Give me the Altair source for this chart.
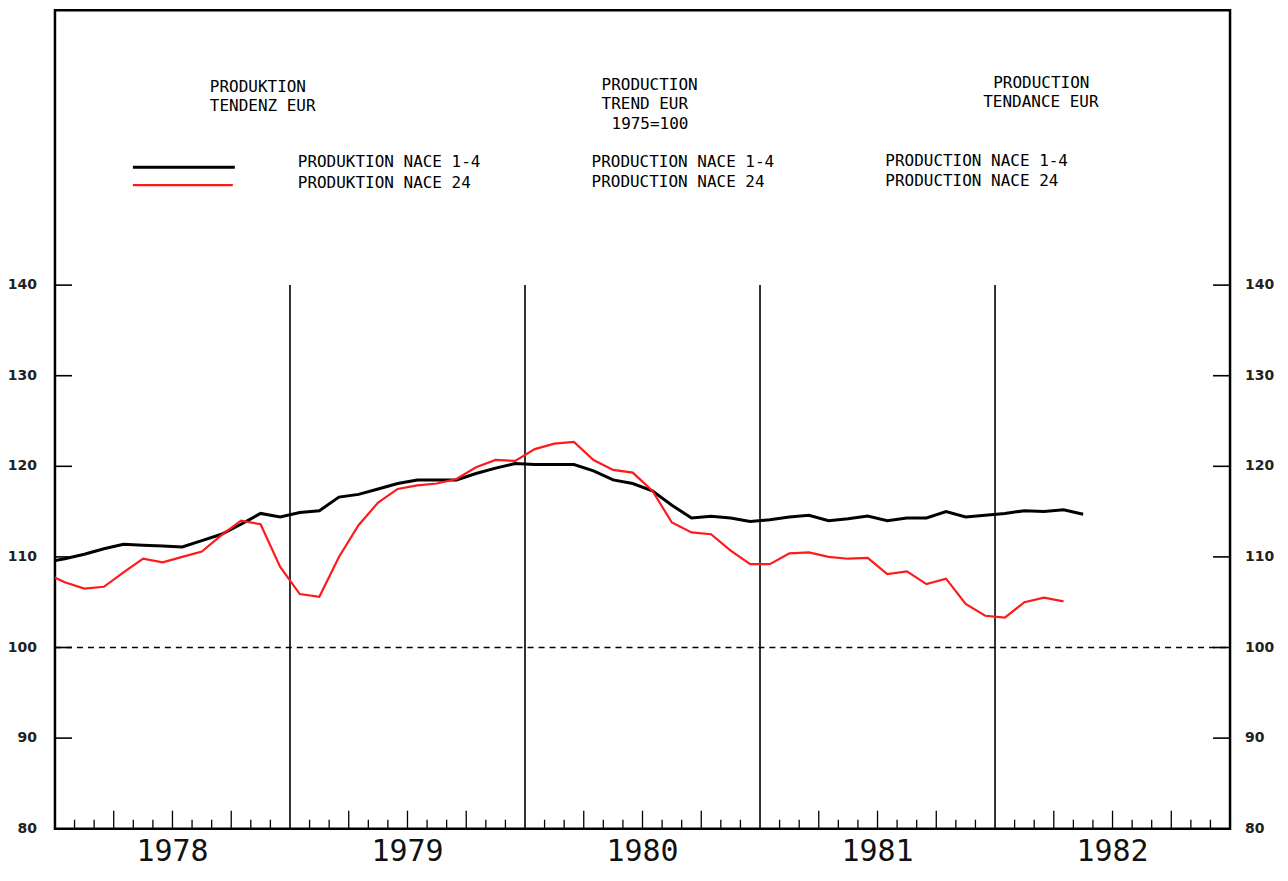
import altair as alt
import pandas as pd

# ---------------- data ----------------
# month index: 0 = January 1978; points plotted at the middle of each month
month_idx = list(range(-1, 53))

nace_1_4 = [109.4,
            109.8, 110.3, 110.9, 111.4, 111.3, 111.2, 111.1, 111.8, 112.5, 113.6, 114.8, 114.4,
            114.9, 115.1, 116.6, 116.9, 117.5, 118.1, 118.5, 118.5, 118.5, 119.2, 119.8, 120.3,
            120.2, 120.2, 120.2, 119.5, 118.5, 118.1, 117.3, 115.7, 114.3, 114.5, 114.3, 113.9,
            114.1, 114.4, 114.6, 114.0, 114.2, 114.5, 114.0, 114.3, 114.3, 115.0, 114.4, 114.6,
            114.8, 115.1, 115.0, 115.2, 114.7]

nace_24 = [108.2,
           107.2, 106.5, 106.7, 108.3, 109.8, 109.4, 110.0, 110.6, 112.4, 114.0, 113.6, 108.9,
           105.9, 105.6, 110.0, 113.5, 116.0, 117.5, 117.9, 118.1, 118.6, 119.9, 120.7, 120.6,
           121.9, 122.5, 122.7, 120.7, 119.6, 119.3, 117.3, 113.8, 112.7, 112.5, 110.7, 109.2,
           109.2, 110.4, 110.5, 110.0, 109.8, 109.9, 108.1, 108.4, 107.0, 107.6, 104.8, 103.5,
           103.3, 105.0, 105.5, 105.1]

years = ["1978", "1979", "1980", "1981", "1982"]
y_ticks = [90, 100, 110, 120, 130, 140]
y_labels = [80, 90, 100, 110, 120, 130, 140]

title_de = ["PRODUKTION", "TENDENZ EUR"]
title_en = ["PRODUCTION", "TREND EUR", "1975=100"]
title_fr = ["PRODUCTION", "TENDANCE EUR"]
legend_de = ["PRODUKTION NACE 1-4", "PRODUKTION NACE 24"]
legend_en = ["PRODUCTION NACE 1-4", "PRODUCTION NACE 24"]
legend_fr = ["PRODUCTION NACE 1-4", "PRODUCTION NACE 24"]

# ---------------- layout ----------------
W, H = 1176, 819
FONT = "DejaVu Sans Mono"

black_df = pd.DataFrame({"m": [m + 0.5 for m in month_idx[:len(nace_1_4)]], "v": nace_1_4})
red_df = pd.DataFrame({"m": [m + 0.5 for m in month_idx[:len(nace_24)]], "v": nace_24})

xs = alt.Scale(domain=[0, 60], nice=False, zero=False)
ys = alt.Scale(domain=[80, 170.33], nice=False, zero=False)

black_line = alt.Chart(black_df).mark_line(color="black", strokeWidth=3, clip=True).encode(
    x=alt.X("m:Q", scale=xs, axis=None), y=alt.Y("v:Q", scale=ys, axis=None))
red_line = alt.Chart(red_df).mark_line(color="#ff1a1a", strokeWidth=2.2, clip=True).encode(
    x=alt.X("m:Q", scale=xs, axis=None), y=alt.Y("v:Q", scale=ys, axis=None))

# year separators (from 80 up to 140)
ysep_df = pd.DataFrame({"m": [12, 24, 36, 48], "lo": [80] * 4, "hi": [140] * 4})
year_lines = alt.Chart(ysep_df).mark_rule(color="black", strokeWidth=1.6).encode(
    x=alt.X("m:Q", scale=xs, axis=None), y=alt.Y("lo:Q", scale=ys, axis=None), y2="hi:Q")

# 100 reference line
ref_df = pd.DataFrame({"v": [100]})
ref_line = alt.Chart(ref_df).mark_rule(color="black", strokeWidth=1.3, strokeDash=[6, 5]).encode(
    y=alt.Y("v:Q", scale=ys, axis=None), x=alt.value(0), x2=alt.value(W))

# month ticks on bottom axis
small_m = [m for m in range(1, 60) if m % 3 != 0]
long_m = [m for m in range(1, 60) if m % 3 == 0 and m % 12 != 0]
small_ticks = alt.Chart(pd.DataFrame({"m": small_m})).mark_rule(color="black", strokeWidth=1.3).encode(
    x=alt.X("m:Q", scale=xs, axis=None), y=alt.value(H), y2=alt.value(H - 9))
long_ticks = alt.Chart(pd.DataFrame({"m": long_m})).mark_rule(color="black", strokeWidth=1.3).encode(
    x=alt.X("m:Q", scale=xs, axis=None), y=alt.value(H), y2=alt.value(H - 18))

# y ticks, left and right, pointing inwards
yt_df = pd.DataFrame({"v": y_ticks})
left_ticks = alt.Chart(yt_df).mark_rule(color="black", strokeWidth=1.6).encode(
    y=alt.Y("v:Q", scale=ys, axis=None), x=alt.value(0), x2=alt.value(17))
right_ticks = alt.Chart(yt_df).mark_rule(color="black", strokeWidth=1.6).encode(
    y=alt.Y("v:Q", scale=ys, axis=None), x=alt.value(W - 17), x2=alt.value(W))

yl_df = pd.DataFrame({"v": y_labels, "t": [str(v) for v in y_labels]})
left_labels = alt.Chart(yl_df).mark_text(font="DejaVu Sans", fontSize=14, fontWeight="bold",
                                         align="right", baseline="middle", color="#222").encode(
    y=alt.Y("v:Q", scale=ys, axis=None), x=alt.value(-18), text="t:N")
right_labels = alt.Chart(yl_df).mark_text(font="DejaVu Sans", fontSize=14, fontWeight="bold",
                                          align="left", baseline="middle", color="#222").encode(
    y=alt.Y("v:Q", scale=ys, axis=None), x=alt.value(W + 15), text="t:N")

# year labels centred in each year
yr_df = pd.DataFrame({"m": [i * 12 + 6 for i in range(len(years))], "t": years})
year_labels = alt.Chart(yr_df).mark_text(font=FONT, fontSize=30, align="center", baseline="middle",
                                         color="#111").encode(
    x=alt.X("m:Q", scale=xs, axis=None), y=alt.value(H + 23), text="t:N")


def text_line(s, x, y, size=16):
    return alt.Chart(pd.DataFrame({"t": [s]})).mark_text(
        font=FONT, fontSize=size, align="left", baseline="middle", color="black").encode(
        text="t:N", x=alt.value(x), y=alt.value(y))


annotations = [
    text_line(title_de[0], 155, 77),
    text_line(title_de[1], 155, 96),
    text_line(title_en[0], 547, 75),
    text_line(title_en[1], 547, 94),
    text_line(title_en[2], 557, 114),
    text_line(title_fr[0], 939, 73),
    text_line(title_fr[1], 929, 92),
    text_line(legend_de[0], 243, 152),
    text_line(legend_de[1], 243, 173),
    text_line(legend_en[0], 537, 152),
    text_line(legend_en[1], 537, 172),
    text_line(legend_fr[0], 831, 151),
    text_line(legend_fr[1], 831, 171),
]

leg_black = alt.Chart(pd.DataFrame({"k": [1]})).mark_rule(color="black", strokeWidth=3).encode(
    x=alt.value(78), x2=alt.value(180), y=alt.value(157))
leg_red = alt.Chart(pd.DataFrame({"k": [1]})).mark_rule(color="#ff1a1a", strokeWidth=2.2).encode(
    x=alt.value(78), x2=alt.value(178), y=alt.value(175))

chart = alt.layer(
    small_ticks, long_ticks, left_ticks, right_ticks, year_lines, ref_line,
    black_line, red_line, left_labels, right_labels, year_labels,
    leg_black, leg_red, *annotations
).properties(
    width=W, height=H,
    autosize=alt.AutoSizeParams(type="none"),
    padding={"left": 47, "top": 2, "right": 50, "bottom": 50},
    background="white",
).configure_view(stroke="black", strokeWidth=2.5)

chart.save("out.html", embed_options={"renderer": "svg", "actions": False})
